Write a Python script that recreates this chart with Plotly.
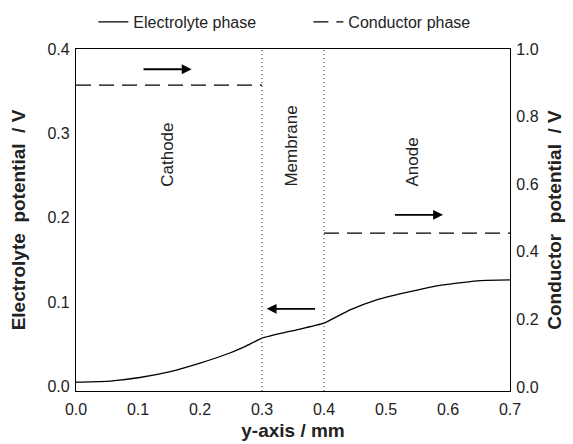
import plotly.graph_objects as go

# Electrolyte phase potential (left axis, V) vs y-axis position (mm)
elec_x = [0.0, 0.055, 0.103, 0.152, 0.2, 0.248, 0.275, 0.3, 0.35, 0.4, 0.442, 0.485, 0.539, 0.592, 0.652, 0.7]
elec_y = [0.0054, 0.0068, 0.011, 0.018, 0.028, 0.040, 0.0485, 0.0576, 0.0665, 0.0754, 0.0911, 0.103, 0.1128, 0.1207, 0.1258, 0.1266]

# Conductor phase potential (right axis, V)
cond_x = [0.0, 0.3, None, 0.4, 0.7]
cond_y = [0.893, 0.893, None, 0.455, 0.455]

# Region boundaries (mm)
boundaries = [0.3, 0.4]

# Region labels: (text, x, baseline y on left axis)
region_names = ["Cathode", "Membrane", "Anode"]
region_x = [0.1475, 0.348, 0.543]
region_y = [0.235, 0.235, 0.235]

# Arrows: tail x, head x, y (left axis)
arrow_tail_x = [0.1065, 0.388, 0.512]
arrow_head_x = [0.1865, 0.3075, 0.592]
arrow_y = [0.376, 0.0923, 0.2036]

FONT = "Liberation Sans, Arial, Helvetica, sans-serif"
NB = "\u00a0"

fig = go.Figure()
fig.add_trace(go.Scatter(x=elec_x, y=elec_y, mode="lines", name="Electrolyte phase",
                         line=dict(color="black", width=1.3, shape="spline", smoothing=0.4)))
fig.add_trace(go.Scatter(x=cond_x, y=cond_y, mode="lines", name="Conductor phase", yaxis="y2",
                         line=dict(color="black", width=1.3, dash="15px,8px")))

for b in boundaries:
    fig.add_shape(type="line", xref="x", yref="paper", x0=b, x1=b, y0=0, y1=1,
                  line=dict(color="#555", width=1.2, dash="1px,3px"))

for name, rx, ry in zip(region_names, region_x, region_y):
    fig.add_annotation(x=rx, y=ry, xref="x", yref="y", text=name, showarrow=False,
                       textangle=-90, yanchor="bottom", xanchor="center",
                       font=dict(family=FONT, size=17, color="#222"))

for tx, hx, ay in zip(arrow_tail_x, arrow_head_x, arrow_y):
    fig.add_annotation(x=hx, y=ay, ax=tx, ay=ay, xref="x", yref="y", axref="x", ayref="y",
                       text="", showarrow=True, arrowhead=2, arrowsize=1.1, arrowwidth=1.8,
                       arrowcolor="black")

title_font = dict(family=FONT, size=19, color="#222")
fig.update_layout(
    width=573, height=444,
    margin=dict(l=76, r=63, t=49, b=53, autoexpand=False),
    paper_bgcolor="white", plot_bgcolor="white",
    font=dict(family=FONT, size=16, color="#222"),
    showlegend=True,
    legend=dict(orientation="h", x=0.04, y=1.079, xanchor="left", yanchor="middle",
                font=dict(family=FONT, size=16, color="#222"), bgcolor="rgba(0,0,0,0)",
                entrywidth=170, entrywidthmode="pixels", itemwidth=30),
    xaxis=dict(range=[0, 0.7], dtick=0.1, tickformat=".1f", showgrid=False, zeroline=False,
               showline=True, linecolor="black", linewidth=1.3, mirror=True, automargin=False,
               ticks="", ticklabelstandoff=4,
               title=dict(text="<b>y-axis / mm</b>", font=title_font, standoff=6)),
    yaxis=dict(range=[-0.005, 0.4], dtick=0.1, tickformat=".1f", showgrid=False, zeroline=False,
               showline=True, linecolor="black", linewidth=1.3, automargin=False,
               ticks="", ticklabelstandoff=2,
               title=dict(text="<b>Electrolyte" + NB * 2 + "potential" + NB * 2 + "/ V</b>",
                          font=title_font, standoff=16)),
    yaxis2=dict(range=[-0.0118, 1.0], dtick=0.2, tickformat=".1f", showgrid=False, zeroline=False,
                overlaying="y", side="right", automargin=False,
                showline=True, linecolor="black", linewidth=1.3,
                ticks="", ticklabelstandoff=2,
                title=dict(text="<b>Conductor" + NB * 2 + "potential" + NB * 2 + "/ V</b>",
                           font=title_font, standoff=10)),
)

fig.write_html("out.html")
